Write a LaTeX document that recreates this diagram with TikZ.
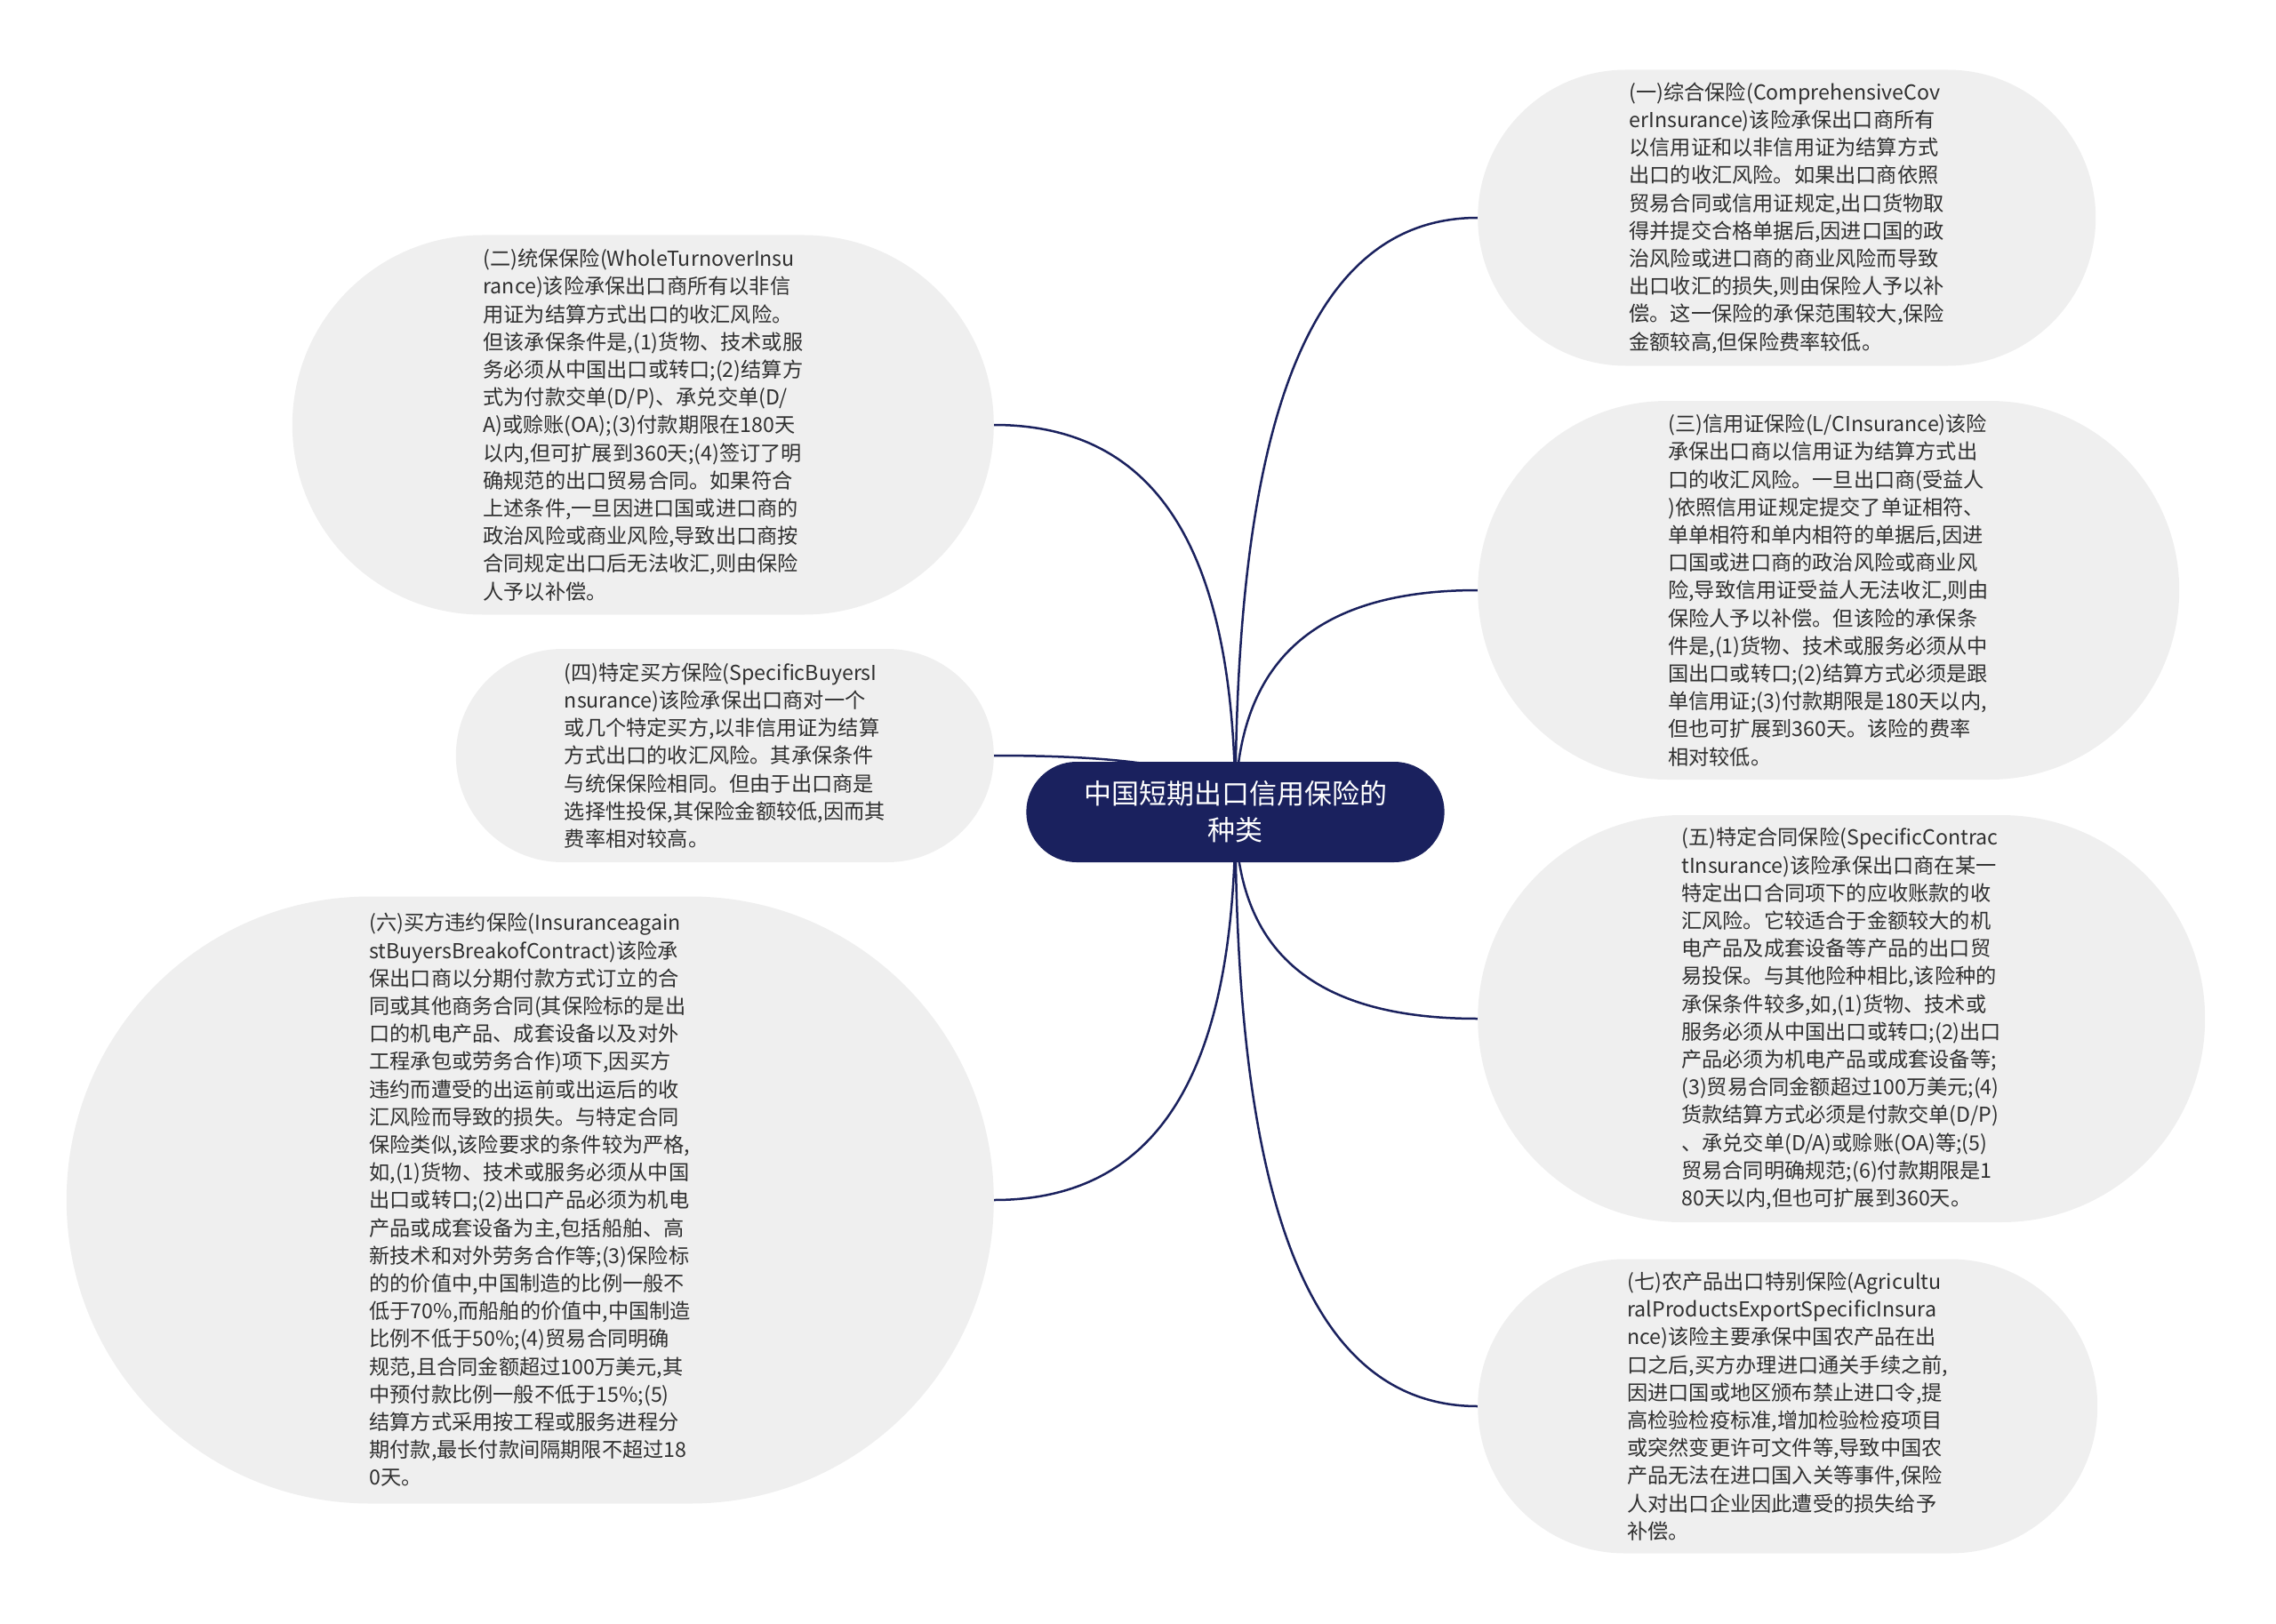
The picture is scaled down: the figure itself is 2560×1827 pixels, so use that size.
\documentclass[tikz,border=0pt]{standalone}
\usepackage{fontspec}
\setmainfont{Noto Sans CJK SC}
\usetikzlibrary{shapes.misc,calc,backgrounds}
\definecolor{navy}{RGB}{26,33,94}
\definecolor{bub}{RGB}{239,239,239}
\definecolor{txt}{RGB}{48,48,48}
\tikzset{
  bubble/.style={rounded rectangle, fill=bub, align=left, text=txt,
    font=\fontsize{23.2}{31.2}\selectfont, inner xsep=0pt, inner ysep=0pt},
  root/.style={rounded rectangle, fill=navy, text=white, align=center,
    font=\fontsize{31}{41}\selectfont, minimum width=477pt, minimum height=113pt},
  link/.style={draw=navy, line width=2.5pt},
}
\begin{document}
\begin{tikzpicture}[x=1pt,y=-1pt]
\useasboundingbox (0,0) rectangle (2560,1827);
\node[root] (root) at (1389.5,913.5) {中国短期出口信用保险的\\种类};

\node[bubble, anchor=west, minimum width=695pt, minimum height=333pt] (b1) at (1662,245) {%
(一)综合保险(ComprehensiveCov\\
erInsurance)该险承保出口商所有\\
以信用证和以非信用证为结算方式\\
出口的收汇风险。如果出口商依照\\
贸易合同或信用证规定,出口货物取\\
得并提交合格单据后,因进口国的政\\
治风险或进口商的商业风险而导致\\
出口收汇的损失,则由保险人予以补\\
偿。这一保险的承保范围较大,保险\\
金额较高,但保险费率较低。};

\node[bubble, anchor=west, minimum width=789pt, minimum height=426pt] (b3) at (1662,664) {%
(三)信用证保险(L/CInsurance)该险\\
承保出口商以信用证为结算方式出\\
口的收汇风险。一旦出口商(受益人\\
)依照信用证规定提交了单证相符、\\
单单相符和单内相符的单据后,因进\\
口国或进口商的政治风险或商业风\\
险,导致信用证受益人无法收汇,则由\\
保险人予以补偿。但该险的承保条\\
件是,(1)货物、技术或服务必须从中\\
国出口或转口;(2)结算方式必须是跟\\
单信用证;(3)付款期限是180天以内,\\
但也可扩展到360天。该险的费率\\
相对较低。};

\node[bubble, anchor=west, minimum width=818pt, minimum height=458pt] (b5) at (1662,1146) {%
(五)特定合同保险(SpecificContrac\\
tInsurance)该险承保出口商在某一\\
特定出口合同项下的应收账款的收\\
汇风险。它较适合于金额较大的机\\
电产品及成套设备等产品的出口贸\\
易投保。与其他险种相比,该险种的\\
承保条件较多,如,(1)货物、技术或\\
服务必须从中国出口或转口;(2)出口\\
产品必须为机电产品或成套设备等;\\
(3)贸易合同金额超过100万美元;(4)\\
货款结算方式必须是付款交单(D/P)\\
、承兑交单(D/A)或赊账(OA)等;(5)\\
贸易合同明确规范;(6)付款期限是1\\
80天以内,但也可扩展到360天。};

\node[bubble, anchor=west, minimum width=697pt, minimum height=331pt] (b7) at (1662,1582) {%
(七)农产品出口特别保险(Agricultu\\
ralProductsExportSpecificInsura\\
nce)该险主要承保中国农产品在出\\
口之后,买方办理进口通关手续之前,\\
因进口国或地区颁布禁止进口令,提\\
高检验检疫标准,增加检验检疫项目\\
或突然变更许可文件等,导致中国农\\
产品无法在进口国入关等事件,保险\\
人对出口企业因此遭受的损失给予\\
补偿。};

\node[bubble, anchor=east, minimum width=789pt, minimum height=427pt] (b2) at (1118,478) {%
(二)统保保险(WholeTurnoverInsu\\
rance)该险承保出口商所有以非信\\
用证为结算方式出口的收汇风险。\\
但该承保条件是,(1)货物、技术或服\\
务必须从中国出口或转口;(2)结算方\\
式为付款交单(D/P)、承兑交单(D/\\
A)或赊账(OA);(3)付款期限在180天\\
以内,但可扩展到360天;(4)签订了明\\
确规范的出口贸易合同。如果符合\\
上述条件,一旦因进口国或进口商的\\
政治风险或商业风险,导致出口商按\\
合同规定出口后无法收汇,则由保险\\
人予以补偿。};

\node[bubble, anchor=east, minimum width=605pt, minimum height=240pt] (b4) at (1118,850) {%
(四)特定买方保险(SpecificBuyersI\\
nsurance)该险承保出口商对一个\\
或几个特定买方,以非信用证为结算\\
方式出口的收汇风险。其承保条件\\
与统保保险相同。但由于出口商是\\
选择性投保,其保险金额较低,因而其\\
费率相对较高。};

\node[bubble, anchor=east, minimum width=1043pt, minimum height=683pt] (b6) at (1118,1350) {%
(六)买方违约保险(Insuranceagain\\
stBuyersBreakofContract)该险承\\
保出口商以分期付款方式订立的合\\
同或其他商务合同(其保险标的是出\\
口的机电产品、成套设备以及对外\\
工程承包或劳务合作)项下,因买方\\
违约而遭受的出运前或出运后的收\\
汇风险而导致的损失。与特定合同\\
保险类似,该险要求的条件较为严格,\\
如,(1)货物、技术或服务必须从中国\\
出口或转口;(2)出口产品必须为机电\\
产品或成套设备为主,包括船舶、高\\
新技术和对外劳务合作等;(3)保险标\\
的的价值中,中国制造的比例一般不\\
低于70\%,而船舶的价值中,中国制造\\
比例不低于50\%;(4)贸易合同明确\\
规范,且合同金额超过100万美元,其\\
中预付款比例一般不低于15\%;(5)\\
结算方式采用按工程或服务进程分\\
期付款,最长付款间隔期限不超过18\\
0天。};

\begin{scope}[on background layer]
\foreach \n/\a in {b1/west,b3/west,b5/west,b7/west,b2/east,b4/east,b6/east}{
  \coordinate (k) at (root.center |- \n.\a);
  \draw[link] (root.center) .. controls ($(root.center)!0.6!(k)$) and ($(k)!0.25!(\n.\a)$) .. (\n.\a);
}
\end{scope}
\end{tikzpicture}
\end{document}
